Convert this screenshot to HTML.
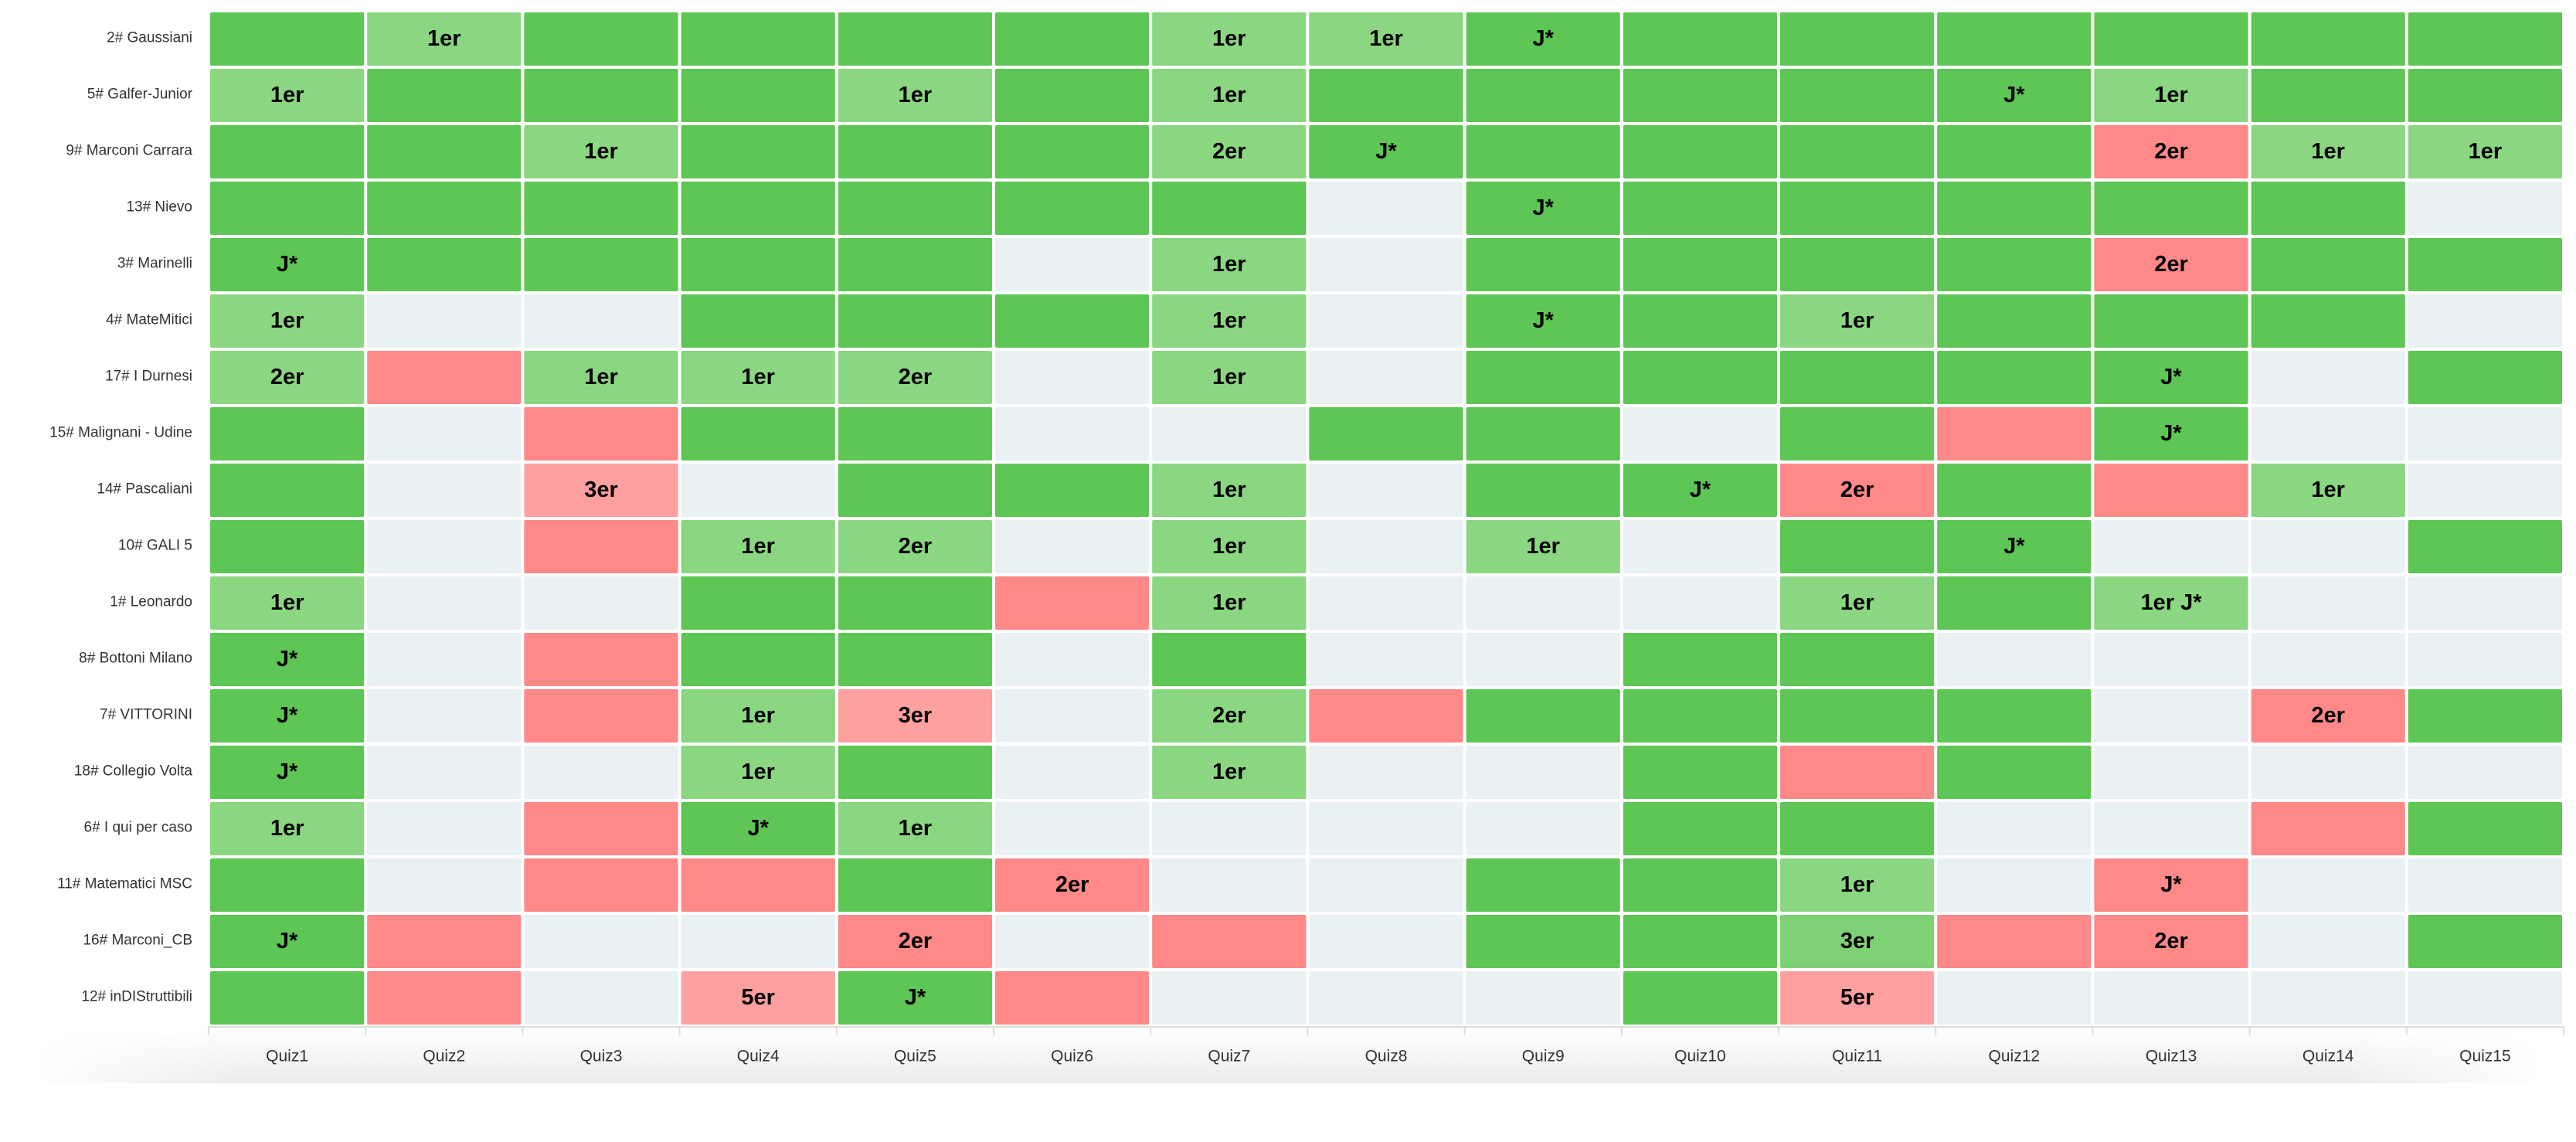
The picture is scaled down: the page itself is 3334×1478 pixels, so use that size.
<!DOCTYPE html>
<html><head><meta charset="utf-8"><style>
body{margin:0;background:#fff;width:3334px;height:1478px;overflow:hidden;font-family:"Liberation Sans",sans-serif}
#shadow{position:absolute;left:40px;top:1330px;width:3254px;height:72px;background:linear-gradient(#fff,#ececec);-webkit-mask-image:linear-gradient(90deg,transparent,#000 8%,#000 92%,transparent);mask-image:linear-gradient(90deg,transparent,#000 8%,#000 92%,transparent)}
svg{position:absolute;left:0;top:0}
</style></head><body>
<div id="shadow"></div>
<svg id="chart" width="3334" height="1478"></svg>
<script>
const quizzes=["Quiz1","Quiz2","Quiz3","Quiz4","Quiz5","Quiz6","Quiz7","Quiz8","Quiz9","Quiz10","Quiz11","Quiz12","Quiz13","Quiz14","Quiz15"];
const teams=["2# Gaussiani","5# Galfer-Junior","9# Marconi Carrara","13# Nievo","3# Marinelli","4# MateMitici","17# I Durnesi","15# Malignani - Udine","14# Pascaliani","10# GALI 5","1# Leonardo","8# Bottoni Milano","7# VITTORINI","18# Collegio Volta","6# I qui per caso","11# Matematici MSC","16# Marconi_CB","12# inDIStruttibili"];
const status=[
"GLGGGGLLGGGGGGG","LGGGLGLGGGGGLGG","GGLGGGLGGGGGRLL","GGGGGGGEGGGGGGE","GGGGGELEGGGGRGG","LEEGGGLEGGLGGGE","LRLLLELEGGGGGEG","GERGGEEGGEGRGEE","GEPEGGLEGGRGRLE","GERLLELELEGGEEG","LEEGGRLEEELGLEE","GERGGEGEEGGEEEE","GERLPELRGGGGERG","GEELGELEEGRGEEE","LERGLEEEEGGEERG","GERRGREEGGLEREE","GREERERGEGGMRREG".slice(0,0)+"GREERERE"+"GGMRREG","GREPGREEEGPEEEE"];
const marks=[
["","1er","","","","","1er","1er","J*","","","","","",""],
["1er","","","","1er","","1er","","","","","J*","1er","",""],
["","","1er","","","","2er","J*","","","","","2er","1er","1er"],
["","","","","","","","","J*","","","","","",""],
["J*","","","","","","1er","","","","","","2er","",""],
["1er","","","","","","1er","","J*","","1er","","","",""],
["2er","","1er","1er","2er","","1er","","","","","","J*","",""],
["","","","","","","","","","","","","J*","",""],
["","","3er","","","","1er","","","J*","2er","","","1er",""],
["","","","1er","2er","","1er","","1er","","","J*","","",""],
["1er","","","","","","1er","","","","1er","","1er J*","",""],
["J*","","","","","","","","","","","","","",""],
["J*","","","1er","3er","","2er","","","","","","","2er",""],
["J*","","","1er","","","1er","","","","","","","",""],
["1er","","","J*","1er","","","","","","","","","",""],
["","","","","","2er","","","","","1er","","J*","",""],
["J*","","","","2er","","","","","","3er","","2er","",""],
["","","","5er","J*","","","","","","5er","","","",""]];
const colors={G:"#5ec654",L:"#8bd680",M:"#7fd176",R:"#ff8888",P:"#ffa0a0",E:"#e9f1f3"};
const NS="http://www.w3.org/2000/svg";
const svg=document.getElementById('chart');
const leftX=270,rightX=3318,topY=14,bottomY=1328;
const cw=(rightX-leftX)/quizzes.length, rh=(bottomY-topY)/teams.length;
const xs=i=>leftX+i*cw, ys=j=>topY+j*rh;
function mk(t,a){const e=document.createElementNS(NS,t);for(const k in a)e.setAttribute(k,a[k]);svg.appendChild(e);return e;}
teams.forEach((tm,j)=>{
  const l=mk('text',{x:249,y:ys(j)+rh/2-1,'text-anchor':'end','dominant-baseline':'middle','font-size':19,fill:'#333'});
  l.textContent=tm;
  
  
  quizzes.forEach((q,i)=>{
    const r=mk('rect',{x:xs(i)+2,y:ys(j)+2,width:cw-4,height:rh-4,rx:2,fill:colors[status[j][i]]||colors.E});
    
    
    if(marks[j][i]){
      const t=mk('text',{x:xs(i)+cw/2,y:ys(j)+rh/2+1,'text-anchor':'middle','dominant-baseline':'middle','font-size':29,'font-weight':'bold',fill:'#000'});
      t.textContent=marks[j][i];
      
      
    }
  });
});
const ax=mk('line',{x1:leftX,x2:rightX,y1:bottomY+1,y2:bottomY+1,stroke:'#ddd','stroke-width':2});


for(let i=0;i<=quizzes.length;i++){
  const tk=mk('line',{x1:xs(i),x2:xs(i),y1:bottomY,y2:bottomY+12,stroke:'#ddd','stroke-width':2});
  
  
}
quizzes.forEach((q,i)=>{
  const t=mk('text',{x:xs(i)+cw/2,y:1368,'text-anchor':'middle','dominant-baseline':'middle','font-size':21,fill:'#333'});
  t.textContent=q;
  
  
});
</script>
</body></html>
